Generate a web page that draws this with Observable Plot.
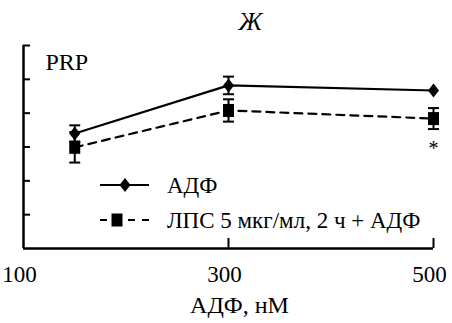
<!DOCTYPE html>
<html>
<head>
<meta charset="utf-8">
<script src="https://cdn.jsdelivr.net/npm/d3@7"></script>
<script src="https://cdn.jsdelivr.net/npm/@observablehq/plot@0.6"></script>
<style>
  html, body { margin: 0; padding: 0; background: #fff; }
  svg { display: block; }
  svg text { font-family: "Liberation Serif", "DejaVu Serif", serif; }
</style>
</head>
<body>
<div id="chart"></div>
<script>
// ADP concentration, nM
const doses = [150, 300, 500];
// ADP alone: mean and error
const adpMean = [3.40, 4.82, 4.67];
const adpErr = [0.24, 0.26, 0];
// LPS 5 µg/ml, 2 h + ADP: mean and error
const lpsMean = [2.99, 4.08, 3.84];
const lpsErr = [0.45, 0.33, 0.31];
// significance marks for the LPS series
const significant = [false, false, true];
const seriesNames = ["АДФ", "ЛПС 5 мкг/мл, 2 ч + АДФ"];
const xTicks = [100, 300, 500];
const yTicks = [1, 2, 3, 4, 5, 6];

const font = "Liberation Serif, DejaVu Serif, serif";

const adp = doses.map((x, i) => ({x, y: adpMean[i], e: adpErr[i]}));
const lps = doses.map((x, i) => ({x, y: lpsMean[i], e: lpsErr[i], sig: significant[i]}));

// marker shapes
const diamond = {draw(ctx) { ctx.moveTo(0, -7); ctx.lineTo(5.5, 0); ctx.lineTo(0, 7); ctx.lineTo(-5.5, 0); ctx.closePath(); }};
const square = {draw(ctx) { ctx.rect(-5.5, -6.5, 11, 13); }};
const cap = {draw(ctx) { ctx.moveTo(-5.5, 0); ctx.lineTo(5.5, 0); }};

function errorMarks(data) {
  return [
    Plot.ruleX(data, {x: "x", y1: d => d.y - d.e, y2: d => d.y + d.e, stroke: "black", strokeWidth: 2}),
    Plot.dot(data, {x: "x", y: d => d.y + d.e, symbol: cap, stroke: "black", fill: "none", strokeWidth: 2}),
    Plot.dot(data, {x: "x", y: d => d.y - d.e, symbol: cap, stroke: "black", fill: "none", strokeWidth: 2})
  ];
}

// legend drawn in the lower-right free space of the frame
function legend(index, scales, values, dimensions) {
  const g = d3.create("svg:g")
    .attr("font-family", font)
    .attr("font-size", 23)
    .attr("text-anchor", "start");
  const rows = [
    {label: seriesNames[0], y: 185, dash: null, symbol: diamond, sx: 125},
    {label: seriesNames[1], y: 220, dash: "7,7", symbol: square, sx: 117}
  ];
  for (const r of rows) {
    g.append("line")
      .attr("x1", 100).attr("x2", 149).attr("y1", r.y).attr("y2", r.y)
      .attr("stroke", "black").attr("stroke-width", 2.2)
      .attr("stroke-dasharray", r.dash);
    g.append("path")
      .attr("transform", `translate(${r.sx},${r.y})`)
      .attr("d", d3.symbol().type(r.symbol)())
      .attr("fill", "black");
    g.append("text")
      .attr("x", 167).attr("y", r.y).attr("dy", "0.33em")
      .attr("fill", "black")
      .attr("text-anchor", "start")
      .text(r.label);
  }
  return g.node();
}

const txt = {fontFamily: font, fontSize: 23, fill: "black", lineAnchor: "middle"};

const chart = Plot.plot({
  width: 452,
  height: 323,
  marginLeft: 23,
  marginRight: 19,
  marginTop: 45,
  marginBottom: 75,
  style: {fontFamily: font, fontSize: "23px", color: "black", background: "white"},
  x: {domain: [100, 500], label: null},
  y: {domain: [0, 6], label: null},
  marks: [
    // axis lines
    Plot.ruleX([100], {stroke: "black", strokeWidth: 2.5}),
    Plot.ruleY([0], {stroke: "black", strokeWidth: 2.5}),
    // inward ticks without numbers
    Plot.axisY({ticks: yTicks, tickSize: -7, tickFormat: () => "", strokeWidth: 2, label: null}),
    Plot.axisX({ticks: [300, 500], tickSize: -10, tickFormat: () => "", strokeWidth: 2, label: null}),
    Plot.text(xTicks, {x: d => d, frameAnchor: "bottom", dy: 26, dx: -4, text: d => String(d), ...txt}),
    Plot.text(["АДФ, нМ"], {frameAnchor: "bottom", dy: 57, dx: 11, ...txt, fontSize: 24}),
    Plot.text(["PRP"], {frameAnchor: "top-left", dx: 22, dy: 17, textAnchor: "start", ...txt, fontSize: 24}),
    Plot.text(["Ж"], {frameAnchor: "top", dx: 22, dy: -24, ...txt, fontStyle: "italic", fontSize: 26}),
    // LPS series (dashed, squares)
    Plot.line(lps, {x: "x", y: "y", stroke: "black", strokeWidth: 2.2, strokeDasharray: "8,6"}),
    ...errorMarks(lps),
    Plot.dot(lps, {x: "x", y: "y", symbol: square, fill: "black", stroke: "none"}),
    Plot.text(lps.filter(d => d.sig), {x: "x", y: d => d.y - d.e, dy: 20, text: () => "*", ...txt, fontSize: 20}),
    // ADP series (solid, diamonds)
    Plot.line(adp, {x: "x", y: "y", stroke: "black", strokeWidth: 2.2}),
    ...errorMarks(adp.filter(d => d.e > 0)),
    Plot.dot(adp, {x: "x", y: "y", symbol: diamond, fill: "black", stroke: "none"}),
    legend
  ]
});

document.getElementById("chart").appendChild(chart);
</script>
</body>
</html>
